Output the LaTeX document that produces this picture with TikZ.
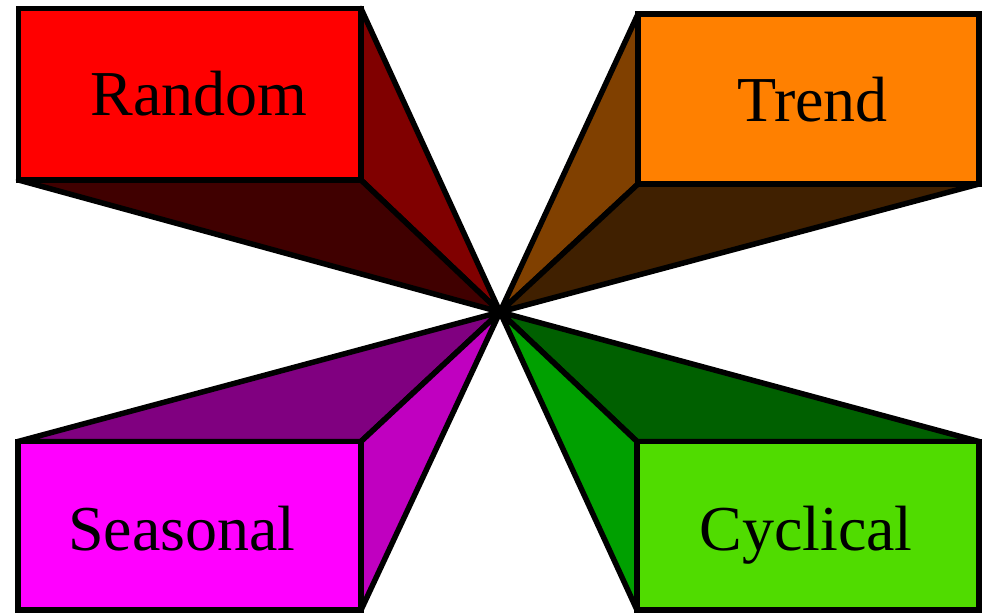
\documentclass[tikz,border=0pt]{standalone}
\usepackage{fontspec}
\setmainfont{Liberation Serif}
\definecolor{rndFront}{HTML}{FF0000}
\definecolor{rndSide}{HTML}{800000}
\definecolor{rndBottom}{HTML}{400000}
\definecolor{trdFront}{HTML}{FF8000}
\definecolor{trdSide}{HTML}{804000}
\definecolor{trdBottom}{HTML}{402000}
\definecolor{seaFront}{HTML}{FF00FF}
\definecolor{seaTop}{HTML}{800080}
\definecolor{seaSide}{HTML}{C000C0}
\definecolor{cycFront}{HTML}{50DC00}
\definecolor{cycSide}{HTML}{00A000}
\definecolor{cycTop}{HTML}{006000}
\begin{document}
\begin{tikzpicture}[x=1pt,y=-1pt,
  face/.style={draw=black,line width=5.5pt,line join=round},
  front/.style={draw=black,line width=5.5pt,line join=miter},
  label/.style={anchor=base,inner sep=0pt,font=\fontsize{64}{64}\selectfont}]
\useasboundingbox (0,0) rectangle (984,614);
% vanishing point shared by all four blocks
\coordinate (vp) at (500,312);
% Random block (top left)
\coordinate (r1) at (18.5,8.5);  \coordinate (r2) at (361,8.5);
\coordinate (r3) at (361,180);   \coordinate (r4) at (18.5,180);
\filldraw[face,fill=rndSide] (r2) -- (vp) -- (r3) -- cycle;
\filldraw[face,fill=rndBottom] (r4) -- (r3) -- (vp) -- cycle;
\filldraw[front,fill=rndFront] (r1) -- (r2) -- (r3) -- (r4) -- cycle;
\node[label] (random) at (199,115) {Random};
% Trend block (top right)
\coordinate (t1) at (638,14);  \coordinate (t2) at (979,14);
\coordinate (t3) at (979,184); \coordinate (t4) at (638,184);
\filldraw[face,fill=trdSide] (t1) -- (vp) -- (t4) -- cycle;
\filldraw[face,fill=trdBottom] (t4) -- (t3) -- (vp) -- cycle;
\filldraw[front,fill=trdFront] (t1) -- (t2) -- (t3) -- (t4) -- cycle;
\node[label] (trend) at (812.5,121) {Trend};
% Seasonal block (bottom left)
\coordinate (s1) at (18,441.5);  \coordinate (s2) at (361,441.5);
\coordinate (s3) at (361,610);   \coordinate (s4) at (18,610);
\filldraw[face,fill=seaTop] (s1) -- (s2) -- (vp) -- cycle;
\filldraw[face,fill=seaSide] (s2) -- (vp) -- (s3) -- cycle;
\filldraw[front,fill=seaFront] (s1) -- (s2) -- (s3) -- (s4) -- cycle;
\node[label] (seasonal) at (182,550) {Seasonal};
% Cyclical block (bottom right)
\coordinate (c1) at (637,441.5);  \coordinate (c2) at (979,441.5);
\coordinate (c3) at (979,610);    \coordinate (c4) at (637,610);
\filldraw[face,fill=cycTop] (c1) -- (c2) -- (vp) -- cycle;
\filldraw[face,fill=cycSide] (c1) -- (vp) -- (c4) -- cycle;
\filldraw[front,fill=cycFront] (c1) -- (c2) -- (c3) -- (c4) -- cycle;
\node[label] (cyclical) at (806,550) {Cyclical};
\end{tikzpicture}
\end{document}
